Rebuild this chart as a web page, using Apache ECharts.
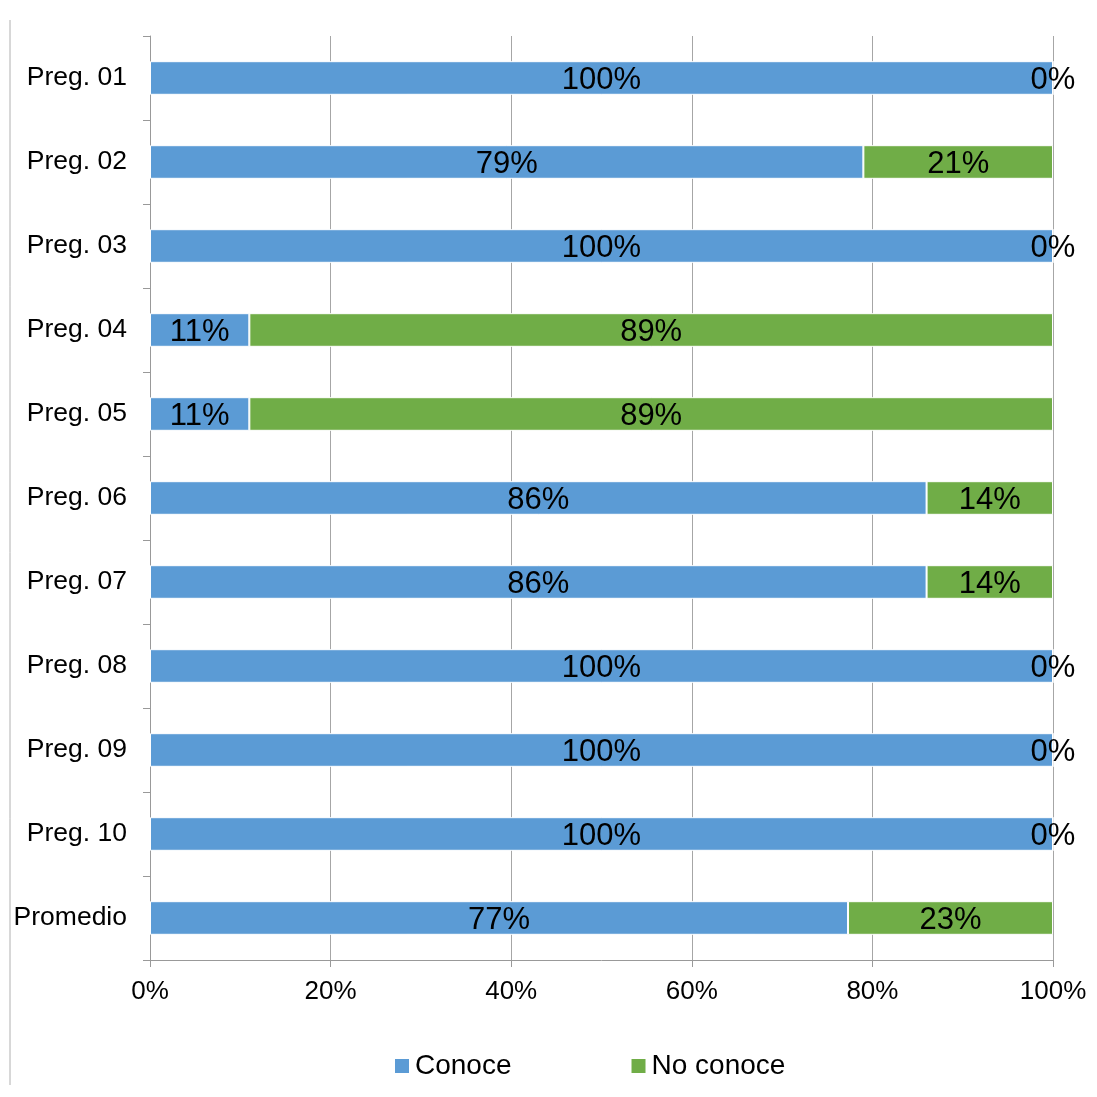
<!DOCTYPE html>
<html><head><meta charset="utf-8">
<script src="https://cdn.jsdelivr.net/npm/echarts@6/dist/echarts.min.js"></script>
<style>html,body{margin:0;padding:0;background:#fff}#c{width:1097px;height:1097px}</style>
</head><body><div id="c"></div>
<script>
const categories = ['Preg. 01','Preg. 02','Preg. 03','Preg. 04','Preg. 05','Preg. 06','Preg. 07','Preg. 08','Preg. 09','Preg. 10','Promedio'];
const conoce = [100,79,100,11,11,86,86,100,100,100,77.3];
const noConoce = [0,21,0,89,89,14,14,0,0,0,22.7];
const xTicks = [0,20,40,60,80,100];

const chart = echarts.init(document.getElementById('c'));
const font = 'Arial, "Liberation Sans", sans-serif';
const lbl = {show:true, position:'inside', color:'#000', fontSize:31, fontFamily:font, offset:[0,2],
  formatter: p => Math.round(p.value) + '%'};
chart.setOption({
  animation:false,
  textStyle:{fontFamily:font},
  grid:{left:150, right:44, top:36, bottom:137},
  legend:{bottom:12, left:388, itemWidth:16, itemHeight:16, itemGap:118,
    icon:'rect', textStyle:{fontSize:28, color:'#000', fontFamily:font, padding:[0,0,0,0]}},
  xAxis:{type:'value', min:0, max:100, interval:20,
    axisLine:{show:true, lineStyle:{color:'#999', width:1}},
    axisTick:{show:true, length:7, lineStyle:{color:'#999'}},
    splitLine:{show:true, lineStyle:{color:'#a6a6a6', width:1}},
    axisLabel:{fontSize:26, color:'#000', margin:19, formatter: v => xTicks.includes(v) ? v + '%' : ''}},
  yAxis:{type:'category', data:categories, inverse:true,
    axisLine:{show:true, lineStyle:{color:'#999'}},
    axisTick:{show:true, length:7, lineStyle:{color:'#999'}},
    axisLabel:{fontSize:26.5, color:'#000', margin:23}},
  series:[
    {name:'Conoce', type:'bar', stack:'a', data:conoce, barWidth:'40%',
      itemStyle:{color:'#5B9BD5', borderColor:'#ffffff', borderWidth:1}, label:lbl},
    {name:'No conoce', type:'bar', stack:'a', data:noConoce, barWidth:'40%',
      itemStyle:{color:'#70AD47', borderColor:'#ffffff', borderWidth:1}, label:lbl}
  ],
  graphic:[{type:'line', shape:{x1:10,y1:20,x2:10,y2:1085}, style:{stroke:'#b0b0b0', lineWidth:1}}]
});
</script></body></html>
